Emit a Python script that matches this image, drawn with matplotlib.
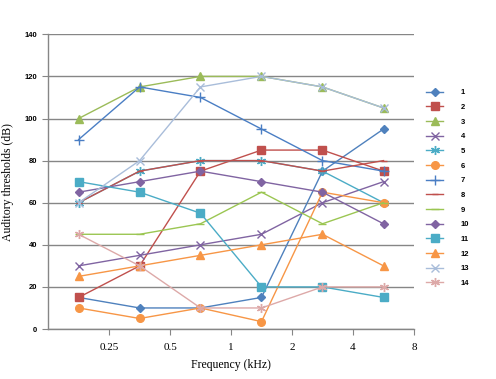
import matplotlib
matplotlib.use("Agg")
import matplotlib.pyplot as plt
from matplotlib.ticker import FixedLocator, NullLocator, FixedFormatter

freqs = [0.177, 0.354, 0.707, 1.414, 2.828, 5.657]
labels = [str(i) for i in range(1, 15)]
s1 = [15, 10, 10, 15, 75, 95]
s2 = [15, 30, 75, 85, 85, 75]
s3 = [100, 115, 120, 120, 115, 105]
s4 = [30, 35, 40, 45, 60, 70]
s5 = [60, 75, 80, 80, 75, 60]
s6 = [10, 5, 10, 3.5, 65, 60]
s7 = [90, 115, 110, 95, 80, 75]
s8 = [60, 75, 80, 80, 75, 80]
s9 = [45, 45, 50, 65, 50, 60]
s10 = [65, 70, 75, 70, 65, 50]
s11 = [70, 65, 55, 20, 20, 15]
s12 = [25, 30, 35, 40, 45, 30]
s13 = [60, 80, 115, 120, 115, 105]
s14 = [45, 30, 10, 10, 20, 20]
series = [s1, s2, s3, s4, s5, s6, s7, s8, s9, s10, s11, s12, s13, s14]
xticks = [0.25, 0.5, 1, 2, 4, 8]
xticklabels = ["0.25", "0.5", "1", "2", "4", "8"]
yticks = [0, 20, 40, 60, 80, 100, 120, 140]

colors = ["#4F81BD", "#C0504D", "#9BBB59", "#8064A2", "#4BACC6", "#F79646",
          "#4A7EC4", "#C0504D", "#9BC652", "#8064A2", "#4BACC6", "#F79646",
          "#A9BDDA", "#DDA9A8"]
markers = ["D", "s", "^", "x", (6, 2, 0), "o", "+", "_", "_", "D", "s", "^", "x", (6, 2, 0)]
msizes = [4, 5.5, 5.5, 5.5, 6.5, 5.5, 6.5, 4.5, 6, 4, 5.5, 5.5, 5.5, 6.5]

fig = plt.figure(figsize=(4.96, 3.79), dpi=100)
ax = fig.add_axes([0.0968, 0.1319, 0.7379, 0.7776])

for i, s in enumerate(series):
    ax.plot(freqs, s, color=colors[i], marker=markers[i], markersize=msizes[i],
            linewidth=1.0, markeredgewidth=1.0, label=labels[i])

ax.set_xscale("log", base=2)
ax.set_xlim(0.125, 8)
ax.set_ylim(0, 140)
ax.xaxis.set_major_locator(FixedLocator(xticks))
ax.xaxis.set_major_formatter(FixedFormatter(xticklabels))
ax.xaxis.set_minor_locator(NullLocator())
ax.set_yticks(yticks)
ax.yaxis.grid(True, color="#868686", linewidth=1.0)
ax.set_axisbelow(True)
for sp in ["top", "right"]:
    ax.spines[sp].set_visible(False)
for sp in ["left", "bottom"]:
    ax.spines[sp].set_color("#868686")
    ax.spines[sp].set_linewidth(1.0)
ax.tick_params(axis="x", direction="out", length=4, color="#868686", pad=6,
               labelsize=8)
ax.tick_params(axis="y", direction="out", length=4, color="#868686", pad=4,
               labelsize=5.5)
for t in ax.get_xticklabels():
    t.set_family("Liberation Serif")
for t in ax.get_yticklabels():
    t.set_family("Liberation Sans")
    t.set_fontweight("bold")

ax.set_xlabel("Frequency (kHz)", family="Liberation Serif", fontsize=8.5, labelpad=5)
ax.set_ylabel("Auditory thresholds (dB)", family="Liberation Serif", fontsize=8.5, labelpad=7)

leg = ax.legend(loc="upper left", bbox_to_anchor=(1.0145, 0.838), frameon=False,
                prop={"family": "Liberation Sans", "size": 5.5, "weight": "bold"},
                handlelength=2.24, handletextpad=2.3, labelspacing=0.96)

fig.savefig("out.png", dpi=100)
